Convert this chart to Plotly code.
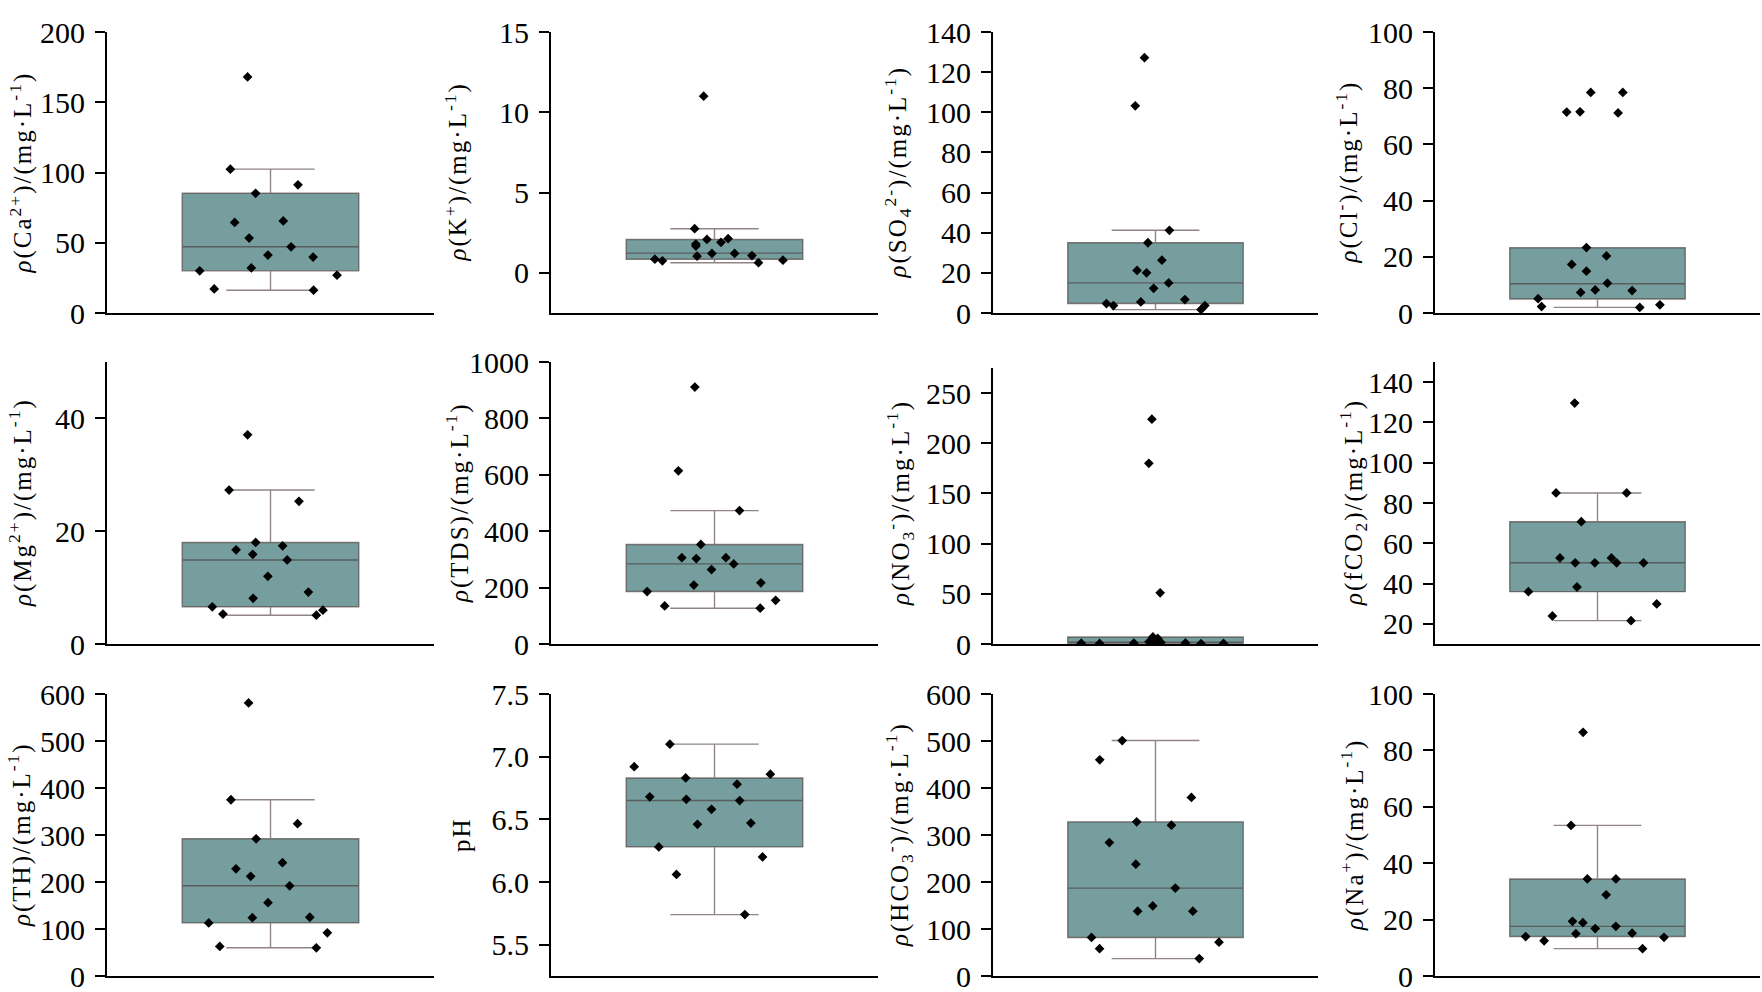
import plotly.graph_objects as go

# sample values (mg/L, pH dimensionless)
ca = [168, 102.4, 91.2, 85.2, 65.5, 64.5, 53.3, 47.1, 41.2, 39.8, 32.1, 30.0, 26.9, 17.1, 16.2]
k = [11.0, 2.75, 2.13, 2.08, 1.9, 1.79, 1.67, 1.21, 1.21, 1.08, 1.04, 0.85, 0.79, 0.75, 0.63]
so4 = [127.2, 103.2, 41.2, 35.0, 26.3, 21.2, 20.0, 15.0, 12.3, 6.7, 5.5, 4.7, 3.7, 3.7, 1.7]
cl = [78.5, 78.5, 71.6, 71.2, 71.5, 23.3, 20.3, 17.3, 14.9, 10.6, 8.2, 8.0, 7.3, 5.1, 2.9, 2.3, 2.0]
mg = [37.1, 27.3, 25.3, 18.0, 17.4, 16.7, 15.9, 14.9, 12.0, 9.2, 8.1, 6.6, 6.0, 5.3, 5.1]
tds = [911, 614, 473, 353, 306, 306, 303, 284, 264, 217, 209, 186, 155, 135, 127]
no3 = [224, 180, 51, 7.0, 5.6, 2.2, 1.8, 1.5, 1.2, 1.0, 0.9, 0.8, 0.6, 0.5, 0.3]
fco2 = [129.6, 85, 85, 70.7, 52.7, 52.7, 50.3, 50.3, 50.3, 50.3, 38.3, 36.0, 29.9, 23.9, 21.6]
th = [581, 375, 324, 292, 241, 228, 212, 192, 156, 125, 124, 113, 92, 63, 60]
ph = [7.10, 6.92, 6.86, 6.83, 6.78, 6.68, 6.66, 6.65, 6.58, 6.47, 6.46, 6.28, 6.20, 6.06, 5.74]
hco3 = [501, 460, 380, 328, 321, 284, 238, 187, 149, 138, 138, 82, 72, 58, 37]
na = [86.4, 53.4, 34.4, 34.4, 28.8, 19.4, 18.9, 17.6, 16.8, 15.2, 15.0, 14.0, 13.7, 12.5, 9.7]

# box statistics as drawn: lower whisker, Q1, median, Q3, upper whisker
ca_box = [16.2, 30.0, 47.1, 85.2, 102.4]
k_box = [0.63, 0.85, 1.23, 2.08, 2.75]
so4_box = [1.7, 4.7, 15.0, 35.0, 41.2]
cl_box = [2.0, 5.0, 10.4, 23.2, 23.2]
mg_box = [5.1, 6.6, 14.9, 18.0, 27.3]
tds_box = [127, 186, 284, 353, 473]
no3_box = [0.3, 0.8, 1.5, 7.0, 7.0]
fco2_box = [21.6, 36.0, 50.3, 70.7, 85]
th_box = [60, 113, 192, 292, 375]
ph_box = [5.74, 6.28, 6.65, 6.83, 7.10]
hco3_box = [37, 82, 187, 328, 501]
na_box = [9.7, 14.0, 17.6, 34.4, 53.4]

unit = "/(mg·L<sup>-1</sup>)"
labels = [
    "<i>ρ</i>(Ca<sup>2+</sup>)" + unit, "<i>ρ</i>(K<sup>+</sup>)" + unit,
    "<i>ρ</i>(SO<sub>4</sub><sup>2-</sup>)" + unit, "<i>ρ</i>(Cl<sup>-</sup>)" + unit,
    "<i>ρ</i>(Mg<sup>2+</sup>)" + unit, "<i>ρ</i>(TDS)" + unit,
    "<i>ρ</i>(NO<sub>3</sub><sup>-</sup>)" + unit, "<i>ρ</i>(fCO<sub>2</sub>)" + unit,
    "<i>ρ</i>(TH)" + unit, "pH",
    "<i>ρ</i>(HCO<sub>3</sub><sup>-</sup>)" + unit, "<i>ρ</i>(Na<sup>+</sup>)" + unit,
]
values = [ca, k, so4, cl, mg, tds, no3, fco2, th, ph, hco3, na]
boxes = [ca_box, k_box, so4_box, cl_box, mg_box, tds_box, no3_box, fco2_box,
         th_box, ph_box, hco3_box, na_box]

# axis ranges and tick values
ranges = [[0, 200], [-2.5, 15], [0, 140], [0, 100],
          [0, 50], [0, 1000], [0, 275], [10, 150],
          [0, 600], [5.25, 7.5], [0, 600], [0, 100]]
ticks = [list(range(0, 201, 50)), [0, 5, 10, 15], list(range(0, 141, 20)), list(range(0, 101, 20)),
         [0, 20, 40], list(range(0, 1001, 200)), list(range(0, 251, 50)), list(range(20, 141, 20)),
         list(range(0, 601, 100)), [5.5, 6.0, 6.5, 7.0, 7.5], list(range(0, 601, 100)), list(range(0, 101, 20))]

W, H = 1762, 992
col_px = [(107, 434), (551, 878), (993, 1318), (1435, 1760)]
row_px = [(32, 313), (362, 644), (694, 976)]
title_dx = [[86, 95, 95, 88], [87, 94, 93, 82], [88, 90, 94, 83]]
font = "Liberation Serif"

fig = go.Figure()
layout = {}
annotations = []
for i in range(12):
    r, c = divmod(i, 4)
    n = "" if i == 0 else str(i + 1)
    lo, q1, med, q3, hi = boxes[i]
    fig.add_trace(go.Box(
        x=[0], y=[values[i]], q1=[q1], median=[med], q3=[q3],
        lowerfence=[lo], upperfence=[hi],
        width=0.54, whiskerwidth=0.5,
        boxpoints="all", jitter=1.0, pointpos=0,
        fillcolor="rgb(118,158,158)",
        line=dict(color="rgba(70,50,50,0.6)", width=1.4),
        marker=dict(symbol="diamond", size=7.5, color="black"),
        xaxis="x" + n, yaxis="y" + n, showlegend=False, hoverinfo="skip",
    ))
    x0, x1 = col_px[c]
    y0, y1 = row_px[r]
    if i == 6:
        y0 = 368
    layout["xaxis" + n] = dict(
        domain=[x0 / W, x1 / W], range=[-0.5, 0.5], anchor="y" + n,
        showline=True, linecolor="black", linewidth=2, automargin=False,
        showticklabels=False, ticks="", showgrid=False, zeroline=False,
    )
    layout["yaxis" + n] = dict(
        domain=[1 - y1 / H, 1 - y0 / H], range=ranges[i], anchor="x" + n,
        tickvals=ticks[i], tickformat=".1f" if i == 9 else "",
        ticks="outside", ticklen=10, tickwidth=2, tickcolor="black",
        showline=True, linecolor="black", linewidth=2, automargin=False,
        showgrid=False, zeroline=False, ticklabelstandoff=4,
        ticklabeloverflow="allow",
        tickfont=dict(family=font, size=30, color="black"),
    )
    annotations.append(dict(
        text='<span style="letter-spacing:2px">' + labels[i] + "</span>",
        textangle=-90, xref="paper", yref="paper",
        x=(x0 - title_dx[r][c]) / W, y=1 - (row_px[r][0] + row_px[r][1]) / 2 / H,
        xanchor="center", yanchor="middle", showarrow=False,
        font=dict(family=font, size=25, color="black"),
    ))

fig.update_layout(
    **layout,
    annotations=annotations,
    width=W, height=H,
    margin=dict(l=0, r=0, t=0, b=0),
    paper_bgcolor="white", plot_bgcolor="white",
)
fig.write_html("out.html", config={"displayModeBar": False},
               post_script="document.body.style.margin = '0px';")
